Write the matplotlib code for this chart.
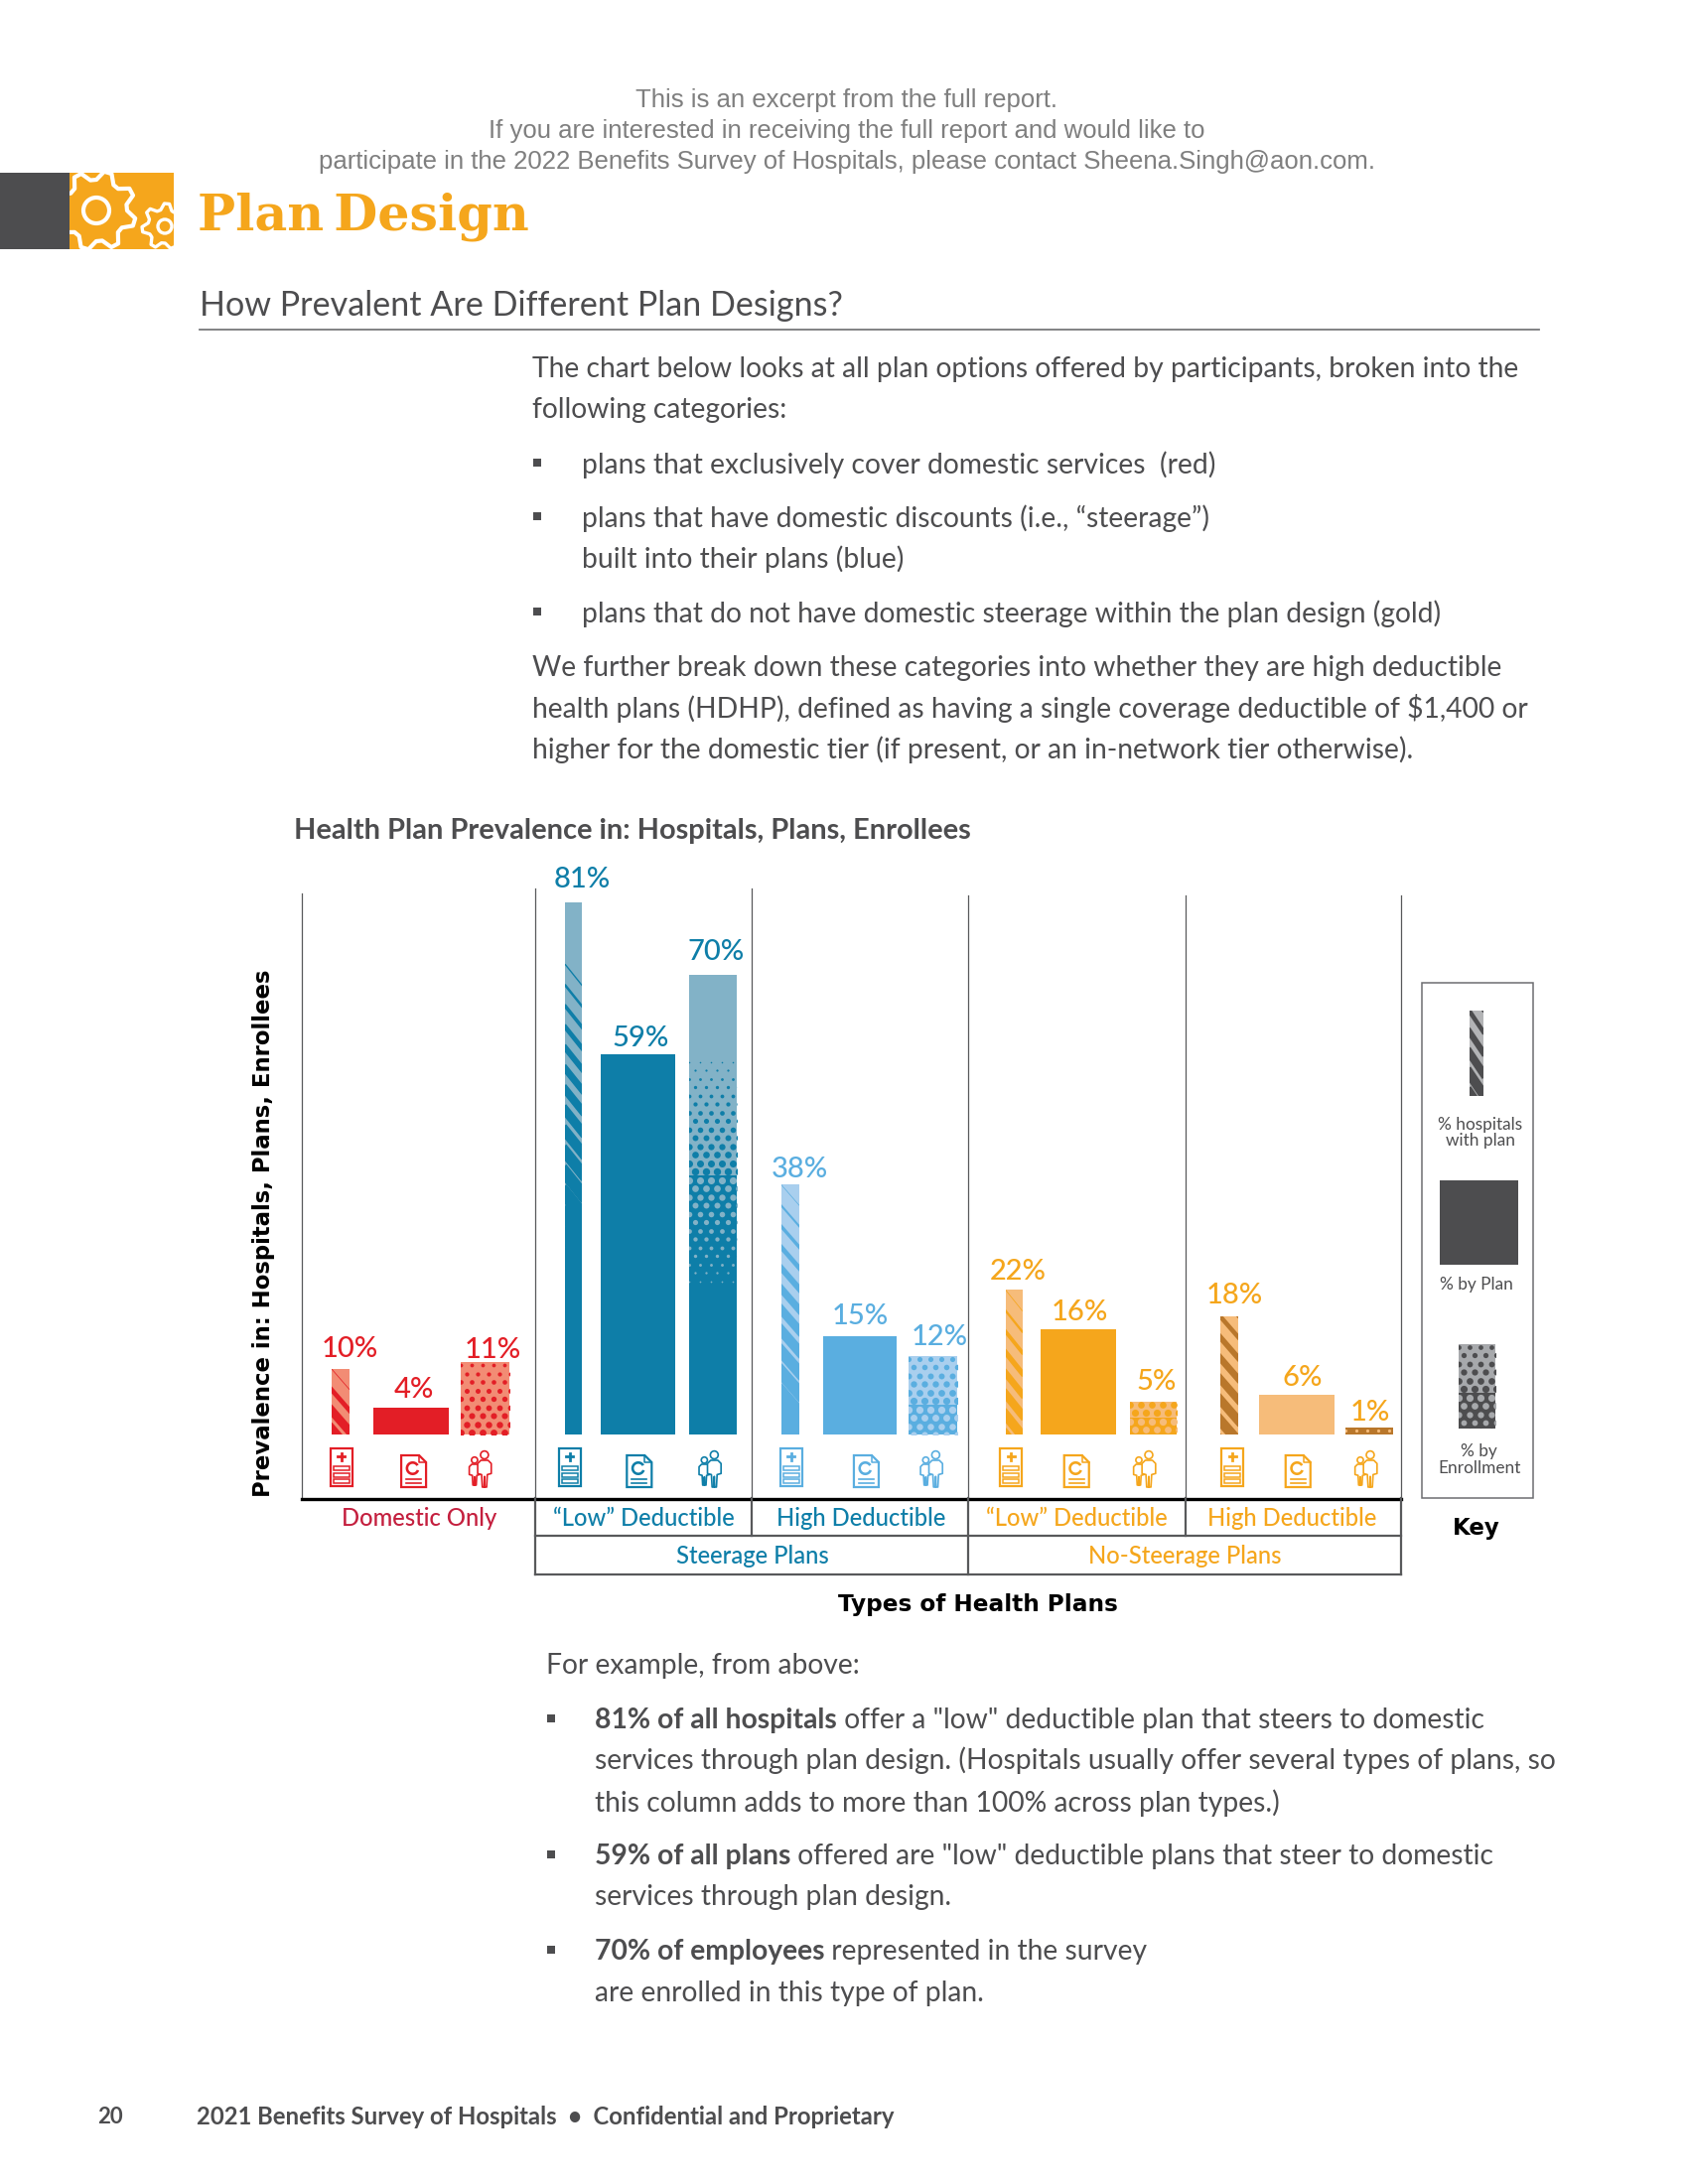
import numpy as np
import matplotlib
matplotlib.use("Agg")
import matplotlib.pyplot as plt
from matplotlib.patches import Rectangle, Circle, Polygon, Wedge

# ------------------------------------------------------------------------------
# Values
# ------------------------------------------------------------------------------
group_names = ["Domestic Only", "\u201cLow\u201d Deductible", "High Deductible",
               "\u201cLow\u201d Deductible", "High Deductible"]
hospital_pct = [10, 81, 38, 22, 18]
plan_pct = [4, 59, 15, 16, 6]
# the printed plan bars do not quite follow their labels, heights as measured
plan_height = [4.1, 57.9, 15, 16, 6.1]
enroll_pct = [11, 70, 12, 5, 1]
parent_names = ["Steerage Plans", "No-Steerage Plans"]
key_labels = ["% hospitals\nwith plan", "% by Plan", "% by\nEnrollment"]

# ------------------------------------------------------------------------------
# Layout, in pixels of the 1212 wide preview, scaled up by S
# ------------------------------------------------------------------------------
S = 1700 / 1212
BASE_Y = 1445
PX_PER_PCT = 6.62
BODY = 20.3
DARK = "#4D4D4F"
RED, RED_L = "#E31E26", "#F28C74"
TEAL, TEAL_L = "#0E7EA8", "#82B2C7"
SKY, SKY_L = "#5AAEE0", "#A9CFEE"
GOLD, GOLD_L = "#F5A61C", "#F6BC7A"
BROWN = "#B9772B"

hosp_x = [(238, 251), (406, 418), (561, 574), (722, 734), (876, 889)]
plan_x = [(268, 322), (431, 485), (591, 644), (747, 801), (904, 958)]
enroll_x = [(331, 366), (495, 529), (652, 687), (811, 845), (966, 1000)]
icon_x = [(245, 297, 345), (409, 459, 510), (568, 622, 669), (726, 773, 822), (885, 932, 981)]
label_dx = [(7, 2, 5), (6, 2, 2), (7, 0, 5), (3, 1, 2), (4, 4, 1)]
label_gap = [(16, 15, 11), (18, 13, 18), (13, 16, 15), (15, 14, 16), (17, 14, 13)]

# stripe gradient, dot gradient: colours and where the gradient runs in the bar
hosp_style = [
    (RED, RED_L, 0.10, 1.20),
    (TEAL, TEAL_L, 0.09, 0.545),
    (SKY, SKY_L, 0.0, 0.85),
    (GOLD, GOLD_L, 0.0, 1.25),
    (BROWN, GOLD_L, -0.6, 1.5),
]
enroll_style = [
    (RED, RED_L, 0.18, 0.45),
    (TEAL, TEAL_L, None, None),
    (SKY, SKY_L, 0.28, 0.62),
    (GOLD, GOLD_L, 0.42, 0.58),
    (BROWN, GOLD_L, 0.85, 0.85),
]
plan_colors = [RED, TEAL, SKY, GOLD, GOLD_L]
text_colors = [RED, TEAL, SKY, GOLD, GOLD]
name_colors = ["#C41F3E", TEAL, TEAL, GOLD, GOLD]
icon_colors = [RED, TEAL, SKY, GOLD, GOLD]

plt.rcParams["font.family"] = ["Lato", "DejaVu Sans"]
fig = plt.figure(figsize=(17, 22), dpi=100, facecolor="white")

# page axes in image pixels, chart axes in percent over the same x pixels
page = fig.add_axes([0, 0, 1, 1], zorder=0)
page.set_xlim(0, 1700)
page.set_ylim(2200, 0)
page.axis("off")

chart = fig.add_axes([0, (2200 - BASE_Y) / 2200, 1, 100 * PX_PER_PCT / 2200], zorder=1)
chart.set_xlim(0, 1700)
chart.set_ylim(0, 100)
chart.axis("off")


def put(x, y, s, size, color=DARK, weight="normal", ha="left", family=None, **kw):
    return page.text(x * S, (y + 1.5) * S, s, fontsize=size, color=color, fontweight=weight,
                     ha=ha, va="center", family=family or plt.rcParams["font.family"], **kw)


def put_runs(x, y, runs, size):
    # bold and regular pieces on one line, each starting where the last ended
    rend = fig.canvas.get_renderer()
    px = x * S
    for s, weight in runs:
        t = page.text(px, (y + 1.5) * S, s, fontsize=size, color=DARK, fontweight=weight, va="center")
        px = page.transData.inverted().transform(t.get_window_extent(rend).corners()[2])[0]


def stripes(bar, color, g0, g1):
    x0, w = bar.get_x(), bar.get_width()
    top = bar.get_y() + bar.get_height()
    h_px = bar.get_height() * PX_PER_PCT
    top_px = BASE_Y - top * PX_PER_PCT
    period, drop = 21.0, 21.0
    cos_a = w / np.hypot(w, drop)
    for y in np.arange(top_px - drop - period, top_px + h_px + period, period):
        frac = (y + drop / 2 - top_px) / h_px
        cover = np.clip((frac - g0) / (g1 - g0), 0, 1.15)
        if cover <= 0.02:
            continue
        ln, = chart.plot([x0, x0 + w], [(BASE_Y - y) / PX_PER_PCT, (BASE_Y - y - drop) / PX_PER_PCT],
                         color=color, lw=cover * period * cos_a * 0.72, solid_capstyle="projecting", zorder=3)
        ln.set_clip_path(bar)


def halftone(bar, color, light, c_top, c_bot, g0=0.0, g1=1.0):
    x0, w = bar.get_x(), bar.get_width()
    top = bar.get_y() + bar.get_height()
    h_px = bar.get_height() * PX_PER_PCT
    top_px = BASE_Y - top * PX_PER_PCT
    step_x, step_y = 11.0, 8.5
    max_dia = 7.4
    rows = np.arange(top_px + 3, top_px + h_px + step_y, step_y)
    for i, y in enumerate(rows):
        frac = np.clip((y - top_px) / h_px, 0, 1)
        t = np.clip((frac - g0) / (g1 - g0), 0, 1)
        c = c_top + (c_bot - c_top) * t
        if c <= 0.03:
            continue
        if c >= 0.5:
            r = Rectangle((x0, (BASE_Y - y - step_y / 2) / PX_PER_PCT), w, step_y / PX_PER_PCT,
                          color=color, lw=0, zorder=3)
            chart.add_patch(r)
            r.set_clip_path(bar)
        if c >= 0.97:
            continue
        xs = np.arange(x0 - step_x + (step_x / 2 if i % 2 else 0), x0 + w + step_x, step_x)
        ys = np.full_like(xs, (BASE_Y - y) / PX_PER_PCT)
        if c < 0.5:
            dia, dot = max_dia * (c / 0.5) ** 0.7, color
        else:
            dia, dot = max_dia * ((1 - c) / 0.5) ** 0.7, light
        sc = chart.scatter(xs, ys, s=(dia * 0.72) ** 2, color=dot, linewidths=0, zorder=4)
        sc.set_clip_path(bar)


def icon_card(cx, cy, color):
    w, h = 22, 38
    page.add_patch(Rectangle((cx - w / 2, cy - h / 2), w, h, fc="none", ec=color, lw=1.6))
    page.plot([cx - 3.5, cx + 3.5], [cy - h / 2 + 8, cy - h / 2 + 8], color=color, lw=2)
    page.plot([cx, cx], [cy - h / 2 + 4.5, cy - h / 2 + 11.5], color=color, lw=2)
    for dy in (-1, 6, 12):
        page.add_patch(Rectangle((cx - w / 2 + 3, cy + dy), w - 6, 4, fc="none", ec=color, lw=1.1))


def icon_report(cx, cy, color):
    w, h = 25, 32
    l, r, t, b = cx - w / 2, cx + w / 2, cy - h / 2, cy + h / 2
    page.add_patch(Polygon([(l, t), (r - 7, t), (r, t + 7), (r, b), (l, b)], fc="none", ec=color, lw=1.6))
    page.plot([r - 7, r - 7, r], [t, t + 7, t + 7], color=color, lw=1.1)
    page.add_patch(Wedge((cx - 1, cy - 3), 7, 20, 330, width=2.6, fc=color, ec="none"))
    page.plot([l + 5, r - 5], [b - 8, b - 8], color=color, lw=1.2)
    page.plot([l + 5, r - 5], [b - 4, b - 4], color=color, lw=1.2)


def person(cx, foot, h, color):
    u = h / 10
    page.add_patch(Circle((cx, foot - 9 * u), 1.1 * u, fc="none", ec=color, lw=1.2))
    pts = [(cx - 0.6 * u, foot), (cx - 0.8 * u, foot - 3.5 * u), (cx - 1.9 * u, foot - 3.8 * u),
           (cx - 1.9 * u, foot - 6.6 * u), (cx - 1.0 * u, foot - 7.5 * u), (cx + 1.0 * u, foot - 7.5 * u),
           (cx + 1.9 * u, foot - 6.6 * u), (cx + 1.9 * u, foot - 3.8 * u), (cx + 0.8 * u, foot - 3.5 * u),
           (cx + 0.6 * u, foot), (cx + 0.1 * u, foot), (cx, foot - 3 * u), (cx - 0.1 * u, foot)]
    page.add_patch(Polygon(pts, fc="white", ec=color, lw=1.2, joinstyle="round"))


def icon_people(cx, cy, color):
    foot = cy + 18
    person(cx - 6, foot - 2, 28, color)
    person(cx + 4, foot, 36, color)


def gear(cx, cy, r_out, r_in, teeth, r_hole, lw):
    ang = np.linspace(0, 2 * np.pi, teeth * 4, endpoint=False) + 0.2
    rad = np.tile([r_out, r_out, r_in, r_in], teeth)
    pts = np.c_[cx + rad * np.cos(ang), cy + rad * np.sin(ang)]
    clip = Rectangle((70, 174), 105, 77, transform=page.transData)
    g = Polygon(pts, fc="none", ec="white", lw=lw, joinstyle="round")
    page.add_patch(g)
    g.set_clip_path(clip)
    c = Circle((cx, cy), r_hole, fc="none", ec="white", lw=lw)
    page.add_patch(c)
    c.set_clip_path(clip)


# ------------------------------------------------------------------------------
# Page header
# ------------------------------------------------------------------------------
for y, s in [(70.5, "This is an excerpt from the full report."),
             (92.5, "If you are interested in receiving the full report and would like to"),
             (114.5, "participate in the 2022 Benefits Survey of Hospitals, please contact Sheena.Singh@aon.com.")]:
    put(608, y, s, 18.5, color="#7F7F7F", ha="center", family="Liberation Sans")

page.add_patch(Rectangle((0, 174), 70, 77, color=DARK, lw=0))
page.add_patch(Rectangle((70, 174), 105, 77, color=GOLD, lw=0))
gear(97, 212, 40, 31, 8, 13, 3)
gear(166, 228, 23, 17, 7, 7, 2.4)
put(142, 154, "Plan\u2009Design", 36.5, color=GOLD, weight="bold", family="DejaVu Serif")

put(143, 218, "How Prevalent Are Different Plan Designs?", 24.6)
page.plot([143 * S, 1105 * S], [237 * S, 237 * S], color="#77787B", lw=1.3)

body = [(382, 264, "The chart below looks at all plan options offered by participants, broken into the"),
        (382, 293, "following categories:"),
        (418, 332, "plans that exclusively cover domestic services  (red)"),
        (418, 371, "plans that have domestic discounts (i.e., \u201csteerage\u201d)"),
        (418, 400, "built into their plans (blue)"),
        (418, 439, "plans that do not have domestic steerage within the plan design (gold)"),
        (382, 478, "We further break down these categories into whether they are high deductible"),
        (382, 507, "health plans (HDHP), defined as having a single coverage deductible of $1,400 or"),
        (382, 537, "higher for the domestic tier (if present, or an in-network tier otherwise)."),
        (392, 1195, "For example, from above:"),
        (427, 1263, "services through plan design. (Hospitals usually offer several types of plans, so"),
        (427, 1293, "this column adds to more than 100% across plan types.)"),
        (427, 1361, "services through plan design."),
        (427, 1430, "are enrolled in this type of plan.")]
for x, y, s in body:
    put(x, y, s, BODY)
put_runs(427, 1234, [("81% of all hospitals", "bold"), (" offer a \"low\" deductible plan that steers to domestic", "normal")], BODY)
put_runs(427, 1332, [("59% of all plans", "bold"), (" offered are \"low\" deductible plans that steer to domestic", "normal")], BODY)
put_runs(427, 1400, [("70% of employees", "bold"), (" represented in the survey", "normal")], BODY)
for x, y in [(386, 332), (386, 371), (386, 439), (396, 1234), (396, 1332), (396, 1400)]:
    page.add_patch(Rectangle((x * S - 4, y * S - 4), 8, 8, color=DARK, lw=0))

put(211, 595, "Health Plan Prevalence in: Hospitals, Plans, Enrollees", 20.9, weight="bold")

# ------------------------------------------------------------------------------
# Chart frame
# ------------------------------------------------------------------------------
for x, top in [(217, 642), (384, 638), (540, 638), (695, 643), (851, 643), (1006, 643)]:
    page.plot([x * S, x * S], [top * S, 1076 * S], color="#58595B", lw=0.9)
page.plot([217 * S, 1006 * S], [1076.5 * S, 1076.5 * S], color="black", lw=2.4)
page.plot([384 * S, 1006 * S], [1103 * S, 1103 * S], color="#58595B", lw=1.6)
page.plot([384 * S, 1006 * S], [1131 * S, 1131 * S], color="#58595B", lw=1.6)
for x, y0, y1 in [(384, 1076, 1131), (540, 1076, 1103), (695, 1076, 1131), (851, 1076, 1103), (1006, 1076, 1131)]:
    page.plot([x * S, x * S], [y0 * S, y1 * S], color="#58595B", lw=1.6)

# ------------------------------------------------------------------------------
# Bars, their patterns, value labels and icons
# ------------------------------------------------------------------------------
for i in range(len(group_names)):
    c, c_l, g0, g1 = hosp_style[i]
    lo, hi = hosp_x[i]
    b = chart.bar((lo + hi) / 2 * S, hospital_pct[i], (hi - lo) * S, color=c_l, zorder=2)[0]
    stripes(b, c, g0, g1)

    lo, hi = plan_x[i]
    chart.bar((lo + hi) / 2 * S, plan_height[i], (hi - lo) * S, color=plan_colors[i], zorder=2)

    c, c_l, c0, c1 = enroll_style[i]
    lo, hi = enroll_x[i]
    b = chart.bar((lo + hi) / 2 * S, enroll_pct[i], (hi - lo) * S, color=c_l, zorder=2)[0]
    if c0 is None:
        halftone(b, c, c_l, 0.0, 1.0, 0.16, 0.70)
    else:
        halftone(b, c, c_l, c0, c1)

    for j, (xr, val, top) in enumerate(zip((hosp_x[i], plan_x[i], enroll_x[i]),
                                           (hospital_pct[i], plan_pct[i], enroll_pct[i]),
                                           (hospital_pct[i], plan_height[i], enroll_pct[i]))):
        chart.annotate(f"{val}%", ((xr[0] + xr[1]) / 2 * S + label_dx[i][j] * S, top),
                       xytext=(0, (label_gap[i][j] - 2) * S * 0.72), textcoords="offset points",
                       ha="center", va="center", fontsize=21, fontweight="medium",
                       color=text_colors[i], annotation_clip=False)

    ic = icon_colors[i]
    icon_card(icon_x[i][0] * S, 1478, ic)
    icon_report(icon_x[i][1] * S, 1482, ic)
    icon_people(icon_x[i][2] * S, 1480, ic)

for x, s, c in zip((301, 462, 618, 773, 928), group_names, name_colors):
    put(x, 1089, s, 17.1, color=c, weight="medium", ha="center")
put(540, 1116, parent_names[0], 17.1, color=TEAL, weight="medium", ha="center")
put(851, 1116, parent_names[1], 17.1, color=GOLD, weight="medium", ha="center")

put(189, 884, "Prevalence in: Hospitals, Plans, Enrollees", 16.4, color="black", weight="bold",
    ha="center", family="DejaVu Sans", rotation=90, rotation_mode="anchor")
put(702, 1151, "Types of Health Plans", 16.7, color="black", weight="bold", ha="center", family="DejaVu Sans")

# ------------------------------------------------------------------------------
# Key
# ------------------------------------------------------------------------------
page.add_patch(Rectangle((1021 * S, 706 * S), 80 * S, 370 * S, fc="none", ec="#6D6E71", lw=1.1))


def swatch(lo, hi, y_top, y_bot, color):
    h = (y_bot - y_top) * S / PX_PER_PCT
    bottom = (BASE_Y - y_bot * S) / PX_PER_PCT
    return chart.bar((lo + hi) / 2 * S, h, (hi - lo) * S, bottom=bottom, color=color, zorder=2)[0]


stripes(swatch(1055, 1065, 726, 787, "#B3B4B6"), DARK, -0.5, 1.1)
swatch(1034, 1090, 848, 908, DARK)
halftone(swatch(1047, 1074, 965, 1026, "#A7A9AC"), DARK, "#A7A9AC", 0.25, 0.68)

put(1063, 806, "% hospitals", 12.4, ha="center")
put(1063, 818, "with plan", 12.4, ha="center")
put(1060, 921, key_labels[1], 12.4, ha="center")
put(1062, 1041, "% by", 12.4, ha="center")
put(1062, 1053, "Enrollment", 12.4, ha="center")
put(1060, 1096, "Key", 16.5, color="black", weight="bold", ha="center", family="DejaVu Sans")

# ------------------------------------------------------------------------------
# Footer
# ------------------------------------------------------------------------------
put(70, 1519, "20", 16, weight="bold")
put(141, 1519, "2021 Benefits Survey of Hospitals  \u2022  Confidential and Proprietary", 17.2, weight="bold")

fig.savefig("out.png", dpi=100)
